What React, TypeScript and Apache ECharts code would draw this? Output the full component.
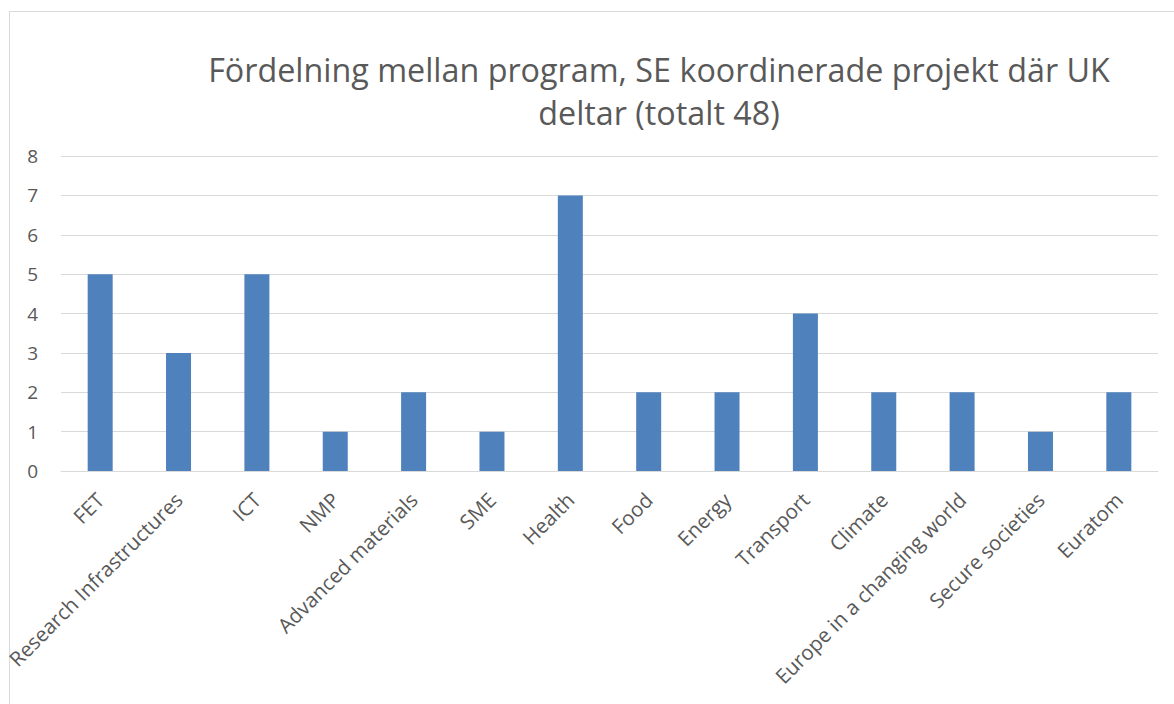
import React, { useEffect, useRef } from "react";
import * as echarts from "echarts";

const categories = [
  "FET",
  "Research Infrastructures",
  "ICT",
  "NMP",
  "Advanced materials",
  "SME",
  "Health",
  "Food",
  "Energy",
  "Transport",
  "Climate",
  "Europe in a changing world",
  "Secure societies",
  "Euratom",
];
const values = [5, 3, 5, 1, 2, 1, 7, 2, 2, 4, 2, 2, 1, 2];
const titleLines = [
  "Fördelning mellan program, SE koordinerade projekt där UK",
  "deltar (totalt 48)",
];

const FONT = "'Open Sans', 'Noto Sans', sans-serif";

export default function App() {
  const ref = useRef<HTMLDivElement>(null);
  useEffect(() => {
    document.body.style.margin = "0";
    const chart = echarts.init(ref.current!, null, { renderer: "svg" });
    chart.setOption({
      animation: false,
      backgroundColor: "#ffffff",
      graphic: [
        {
          type: "rect",
          shape: { x: 9.5, y: 11.5, width: 1400, height: 900 },
          style: { fill: "none", stroke: "#d9d9d9", lineWidth: 1 },
          silent: true,
        },
      ],
      title: {
        text: titleLines.join("\n"),
        left: 654,
        top: 42,
        textAlign: "center",
        textStyle: {
          fontFamily: FONT,
          fontSize: 32.3,
          fontWeight: "normal",
          color: "#595959",
          lineHeight: 43,
        },
      },
      grid: { left: 61, right: 16, top: 156, bottom: 233, containLabel: false },
      xAxis: {
        type: "category",
        data: categories,
        axisLine: { show: true, lineStyle: { color: "#d9d9d9", width: 1 } },
        axisTick: { show: false },
        axisLabel: {
          interval: 0,
          rotate: 45,
          margin: 25,
          fontFamily: FONT,
          fontSize: 20.5,
          color: "#595959",
        },
      },
      yAxis: {
        type: "value",
        min: 0,
        max: 8,
        interval: 1,
        axisLine: { show: false },
        axisTick: { show: false },
        splitLine: { lineStyle: { color: "#d9d9d9", width: 1 } },
        axisLabel: {
          margin: 23,
          fontFamily: FONT,
          fontSize: 19,
          color: "#595959",
        },
      },
      series: [
        {
          type: "bar",
          data: values,
          barWidth: 25,
          itemStyle: { color: "#4f81bd" },
        },
      ],
    });
    return () => chart.dispose();
  }, []);
  return <div ref={ref} style={{ width: 1174, height: 704 }} />;
}
